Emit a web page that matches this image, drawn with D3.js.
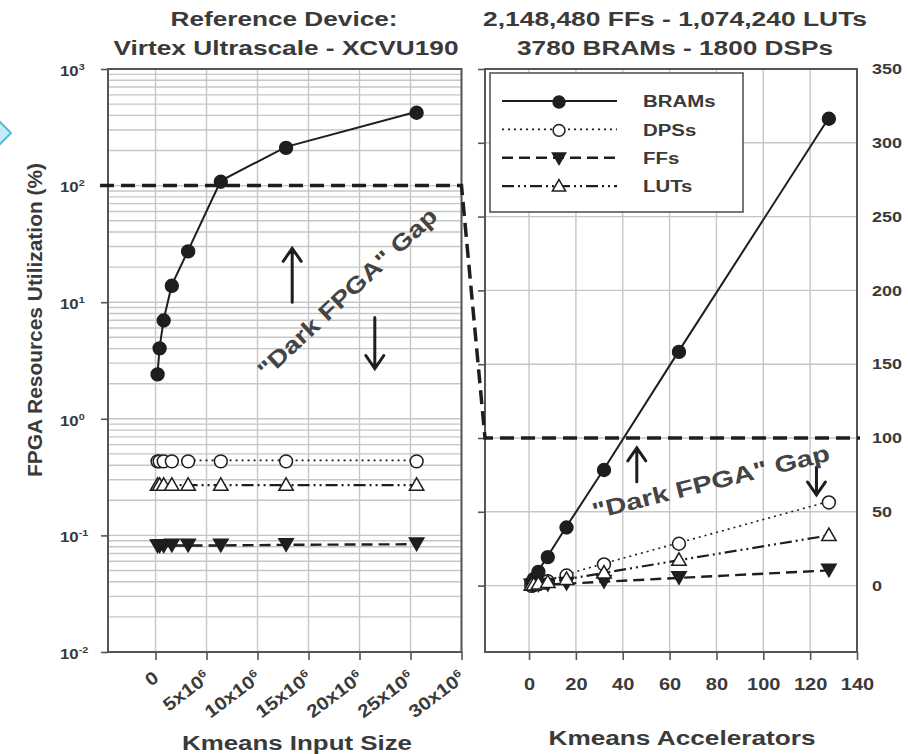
<!DOCTYPE html>
<html>
<head>
<meta charset="utf-8">
<script src="https://cdn.jsdelivr.net/npm/d3@7"></script>
<style>
  body { margin: 0; background: #fff; }
  svg text { font-family: "Liberation Sans", Arial, sans-serif; font-weight: bold; fill: #3a3a3a; }
</style>
</head>
<body>
<div id="chart"></div>
<script>
(function () {

// ---- data ----
// left panel: utilisation vs Kmeans input size (log y)
const inputSize = [0.2e6, 0.4e6, 0.8e6, 1.6e6, 3.2e6, 6.4e6, 12.8e6, 25.6e6];
const sizeBRAMs = [2.45, 4.1, 7.1, 14.1, 27.8, 110, 215, 430];
const sizeDSPs  = [0.44, 0.44, 0.44, 0.44, 0.44, 0.44, 0.44, 0.44];
const sizeFFs   = [0.081, 0.081, 0.081, 0.082, 0.082, 0.082, 0.083, 0.084];
const sizeLUTs  = [0.27, 0.27, 0.27, 0.27, 0.27, 0.27, 0.27, 0.27];

// right panel: utilisation vs number of accelerators (linear y)
const accels   = [1, 2, 4, 8, 16, 32, 64, 128];
const accBRAMs = [2.5, 5, 10, 20, 40, 79, 159, 317];
const accDSPs  = [0.45, 0.9, 1.8, 3.6, 7.5, 15, 29, 57];
const accFFs   = [0.08, 0.16, 0.33, 0.66, 1.3, 2.6, 5.2, 10.3];
const accLUTs  = [0.27, 0.54, 1.1, 2.2, 4.3, 8.6, 17.2, 34];

const seriesNames = ["BRAMs", "DPSs", "FFs", "LUTs"];

// ticks
const sizeTicks = [0, 5e6, 10e6, 15e6, 20e6, 25e6, 30e6];
const sizeTickLabels = ["0", "5x10|6", "10x10|6", "15x10|6", "20x10|6", "25x10|6", "30x10|6"];
const logTicks = [1e-2, 1e-1, 1e0, 1e1, 1e2, 1e3];
const logTickExp = ["-2", "-1", "0", "1", "2", "3"];
const accTicks = [0, 20, 40, 60, 80, 100, 120, 140];
const pctTicks = [0, 50, 100, 150, 200, 250, 300, 350];

const limit = 100; // 100% line, the "dark FPGA" gap

const W = 908, H = 754;
const top = 69, bottom = 652;
const ink = "#1e1e1e";

const svg = d3.select("#chart").append("svg")
    .attr("width", W)
    .attr("height", H);

// little blue chevron on the left edge of the screenshot
svg.append("polygon")
    .attr("points", "-6,116 11,133 -6,150")
    .attr("fill", "#c4ecfb")
    .attr("stroke", "#56b9d9")
    .attr("stroke-width", 2);

// scales
const xL = d3.scaleLinear().domain([-4.66e6, 30e6]).range([108, 461.5]);
const yL = d3.scaleLog().domain([1e-2, 1e3]).range([bottom, top]);
const xR = d3.scaleLinear().domain([-18.8, 140]).range([485, 857]);
const yR = d3.scaleLinear().domain([-45, 350]).range([bottom, top]);

// line / marker styles for each resource
const styles = {
  BRAMs: {dash: null, width: 2, symbol: d3.symbolCircle, size: 130, fill: ink, rot: 0},
  DPSs:  {dash: "2,4", width: 1.6, symbol: d3.symbolCircle, size: 130, fill: "#fff", rot: 0},
  FFs:   {dash: "11,6", width: 2.4, symbol: d3.symbolTriangle, size: 90, fill: ink, rot: 180},
  LUTs:  {dash: "12,4,2,4,2,4", width: 2.2, symbol: d3.symbolTriangle, size: 90, fill: "#fff", rot: 0}
};

// horizontal stretch for text (the picture's type is wide)
function stretch(sel, k) {
  sel.each(function () {
    const t = d3.select(this);
    const x = +t.attr("x") || 0, y = +t.attr("y") || 0;
    t.attr("transform", `translate(${x},${y}) scale(${k},1) translate(${-x},${-y})`);
  });
}

function drawSeries(g, xs, ys, x, y, st) {
  const pts = xs.map((v, i) => [x(v), y(ys[i])]);
  g.append("path")
      .attr("d", d3.line()(pts))
      .attr("fill", "none")
      .attr("stroke", ink)
      .attr("stroke-width", st.width)
      .attr("stroke-dasharray", st.dash);
  g.selectAll(null)
    .data(pts)
    .join("path")
      .attr("d", d3.symbol(st.symbol, st.size))
      .attr("transform", d => `translate(${d[0]},${d[1] + (st.rot ? -2 : 1)}) rotate(${st.rot})`)
      .attr("fill", st.fill)
      .attr("stroke", ink)
      .attr("stroke-width", 1.5);
}

function arrow(g, x, y1, y2) {
  const dir = y2 < y1 ? 1 : -1;
  g.append("path")
      .attr("d", `M${x},${y1}L${x},${y2}M${x - 9},${y2 + dir * 13}L${x},${y2}L${x + 9},${y2 + dir * 13}`)
      .attr("fill", "none")
      .attr("stroke", ink)
      .attr("stroke-width", 3)
      .attr("stroke-linecap", "round");
}

function gapLabel(g, cx, cy, angle, len) {
  g.append("text")
      .attr("transform", `translate(${cx},${cy}) rotate(${angle})`)
      .attr("text-anchor", "middle")
      .attr("dy", "0.35em")
      .attr("font-size", 23)
      .attr("textLength", len)
      .attr("lengthAdjust", "spacingAndGlyphs")
      .style("fill", "#444")
      .text('"Dark FPGA" Gap');
}

// =========== left panel ===========
const left = svg.append("g");

// grid: vertical at x ticks, horizontal at every log tick
left.append("g").selectAll("line")
  .data(sizeTicks)
  .join("line")
    .attr("x1", d => xL(d)).attr("x2", d => xL(d))
    .attr("y1", top).attr("y2", bottom)
    .attr("stroke", "#c6c6c6").attr("stroke-width", 1.4);
left.append("g").selectAll("line")
  .data(yL.ticks())
  .join("line")
    .attr("x1", xL.range()[0]).attr("x2", xL.range()[1])
    .attr("y1", d => yL(d)).attr("y2", d => yL(d))
    .attr("stroke", "#c6c6c6").attr("stroke-width", 1.4);

// axes
const axL = left.append("g")
    .attr("transform", `translate(${xL.range()[0]},0)`)
    .call(d3.axisLeft(yL).tickValues(logTicks).tickSize(7).tickFormat(""));
axL.select(".domain").remove();
axL.selectAll(".tick line").attr("stroke", "#555").attr("stroke-width", 1.6);
axL.selectAll(".tick").append("text")
    .attr("x", -48).attr("dy", "0.45em")
    .attr("text-anchor", "start")
    .attr("font-size", 14)
    .each(function (d, i) {
      const t = d3.select(this);
      t.append("tspan").text("10");
      t.append("tspan").attr("dy", -6).attr("font-size", 9).text(logTickExp[i]);
    })
    .call(stretch, 1.2);

const bxL = left.append("g")
    .attr("transform", `translate(0,${bottom})`)
    .call(d3.axisBottom(xL).tickValues(sizeTicks).tickSize(8).tickFormat(""));
bxL.select(".domain").remove();
bxL.selectAll(".tick line").attr("stroke", "#555").attr("stroke-width", 1.6);
bxL.selectAll(".tick").append("text")
    .attr("text-anchor", "end")
    .attr("font-size", 18)
    .attr("transform", "translate(4,28) rotate(-37) scale(1.15,1)")
    .each(function (d, i) {
      const parts = sizeTickLabels[i].split("|");
      const t = d3.select(this);
      t.append("tspan").text(parts[0]);
      if (parts[1]) t.append("tspan").attr("dy", -7).attr("font-size", 11).text(parts[1]);
    });

// series
seriesNames.forEach((name, k) => {
  const ys = [sizeBRAMs, sizeDSPs, sizeFFs, sizeLUTs][k];
  drawSeries(left, inputSize, ys, xL, yL, styles[name]);
});

// frame
left.append("rect")
    .attr("x", xL.range()[0]).attr("y", top)
    .attr("width", xL.range()[1] - xL.range()[0]).attr("height", bottom - top)
    .attr("fill", "none").attr("stroke", "#555").attr("stroke-width", 2);

// annotations
arrow(left, xL(13.4e6), yL(10), yL(29));
arrow(left, xL(21.5e6), yL(7.4), yL(2.7));
gapLabel(left, xL(18.8e6), yL(12.1), -43, 236);

// =========== right panel ===========
const right = svg.append("g");

right.append("g").selectAll("line")
  .data(accTicks)
  .join("line")
    .attr("x1", d => xR(d)).attr("x2", d => xR(d))
    .attr("y1", top).attr("y2", bottom)
    .attr("stroke", "#c6c6c6").attr("stroke-width", 1.4);
right.append("g").selectAll("line")
  .data(pctTicks)
  .join("line")
    .attr("x1", xR.range()[0]).attr("x2", xR.range()[1])
    .attr("y1", d => yR(d)).attr("y2", d => yR(d))
    .attr("stroke", "#c6c6c6").attr("stroke-width", 1.4);

const axR = right.append("g")
    .attr("transform", `translate(${xR.range()[0]},0)`)
    .call(d3.axisLeft(yR).tickValues(pctTicks).tickSize(7).tickFormat(""));
axR.select(".domain").remove();
axR.selectAll(".tick line").attr("stroke", "#555").attr("stroke-width", 1.6);

const ayR = right.append("g")
    .attr("transform", `translate(${xR.range()[1]},0)`)
    .call(d3.axisRight(yR).tickValues(pctTicks).tickSize(0).tickPadding(15));
ayR.select(".domain").remove();
ayR.selectAll(".tick text").attr("font-size", 15).call(stretch, 1.2);

const bxR = right.append("g")
    .attr("transform", `translate(0,${bottom})`)
    .call(d3.axisBottom(xR).tickValues(accTicks).tickSize(8).tickPadding(19));
bxR.select(".domain").remove();
bxR.selectAll(".tick line").attr("stroke", "#555").attr("stroke-width", 1.6);
bxR.selectAll(".tick text").attr("font-size", 16).call(stretch, 1.25);

seriesNames.forEach((name, k) => {
  const ys = [accBRAMs, accDSPs, accFFs, accLUTs][k];
  drawSeries(right, accels, ys, xR, yR, styles[name]);
});

right.append("rect")
    .attr("x", xR.range()[0]).attr("y", top)
    .attr("width", xR.range()[1] - xR.range()[0]).attr("height", bottom - top)
    .attr("fill", "none").attr("stroke", "#555").attr("stroke-width", 2);

arrow(right, xR(46), yR(70.4), yR(93.3));
arrow(right, xR(122.7), yR(80.4), yR(61.4));
gapLabel(right, xR(77.6), yR(70.2), -14, 244);

// legend
const lg = right.append("g").attr("transform", `translate(${xR.range()[0] + 5},${top + 4})`);
lg.append("rect")
    .attr("width", 253).attr("height", 139)
    .attr("fill", "#fff").attr("stroke", "#555").attr("stroke-width", 1.6);
seriesNames.forEach((name, i) => {
  const st = styles[name];
  const ry = 28 + i * 28.4;
  lg.append("path")
      .attr("d", `M12,${ry}L127,${ry}`)
      .attr("stroke", ink).attr("stroke-width", st.width)
      .attr("stroke-dasharray", st.dash);
  lg.append("path")
      .attr("d", d3.symbol(st.symbol, st.size * 0.85))
      .attr("transform", `translate(69,${ry + (st.rot ? -1 : 1)}) rotate(${st.rot})`)
      .attr("fill", st.fill).attr("stroke", ink).attr("stroke-width", 1.5);
  lg.append("text")
      .attr("x", 153).attr("y", ry)
      .attr("dy", "0.36em")
      .attr("font-size", 17)
      .text(name)
      .call(stretch, 1.2);
});

// dashed 100% line across both panels
svg.append("path")
    .attr("d", d3.line()([
      [xL.range()[0] - 8, yL(limit)],
      [xL(30e6), yL(limit)],
      [xR.range()[0], yR(limit)],
      [xR.range()[1] + 3, yR(limit)]
    ]))
    .attr("fill", "none")
    .attr("stroke", ink)
    .attr("stroke-width", 3.5)
    .attr("stroke-dasharray", "14,7");

// titles
function title(x, y, txt, len, size) {
  svg.append("text")
      .attr("x", x).attr("y", y)
      .attr("text-anchor", "middle")
      .attr("font-size", size)
      .attr("textLength", len)
      .attr("lengthAdjust", "spacingAndGlyphs")
      .text(txt);
}
title(284, 26, "Reference Device:", 227, 20);
title(286, 55, "Virtex Ultrascale - XCVU190", 345, 20);
title(675, 26, "2,148,480 FFs - 1,074,240 LUTs", 384, 20);
title(675, 55, "3780 BRAMs - 1800 DSPs", 316, 20);
title(297, 750, "Kmeans Input Size", 230, 20);
title(682, 745, "Kmeans Accelerators", 267, 20);

svg.append("text")
    .attr("transform", "translate(42,320) rotate(-90)")
    .attr("text-anchor", "middle")
    .attr("font-size", 20)
    .attr("textLength", 314)
    .attr("lengthAdjust", "spacingAndGlyphs")
    .text("FPGA Resources Utilization (%)");

})();
</script>
</body>
</html>
